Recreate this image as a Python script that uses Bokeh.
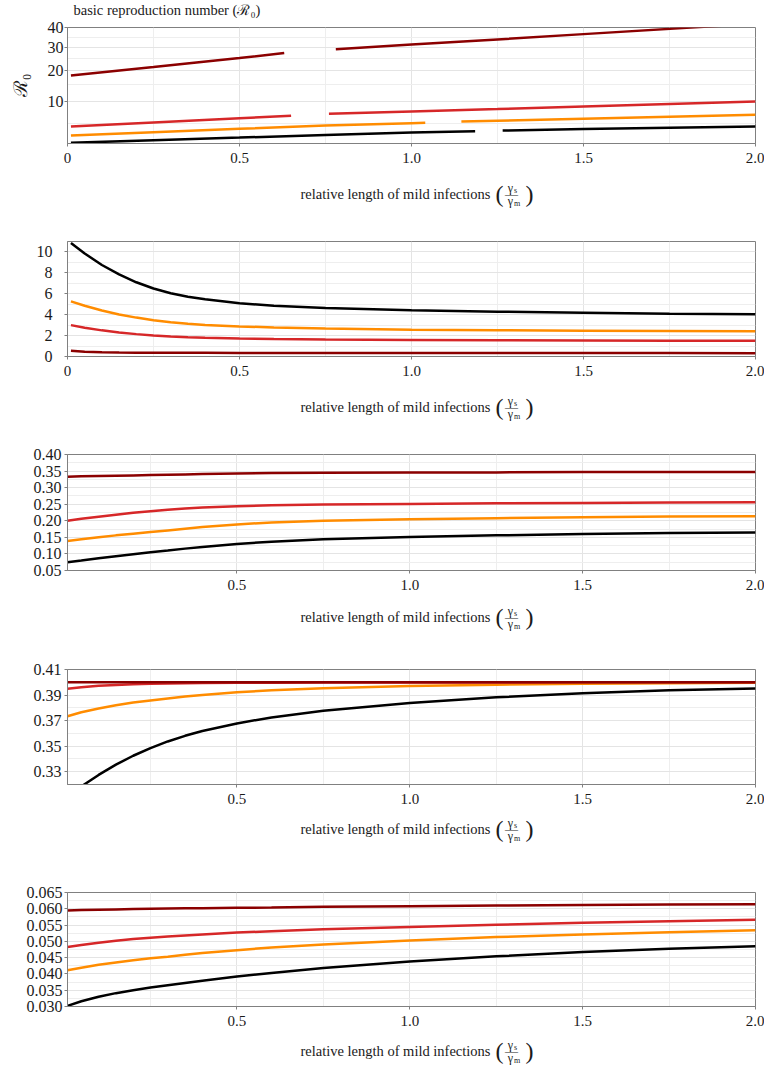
import math
from bokeh.plotting import figure
from bokeh.layouts import column
from bokeh.models import FixedTicker, CustomJSTickFormatter, PrintfTickFormatter, Range1d
from bokeh.core.properties import value
from bokeh.embed import file_html
from bokeh.resources import INLINE

nan = float("nan")
FONT = "Liberation Serif"

# series colours
C_BLACK = "#000000"
C_ORANGE = "#ff8c00"
C_RED = "#d62728"
C_DARKRED = "#8b0000"

# ---------------- Panel 1: basic reproduction number R0 (with gaps) ----------------
r0_darkred_x = [0.01, 0.25, 0.5, 0.63, nan, 0.78, 1.0, 1.25, 1.5, 1.8, 2.0]
r0_darkred_y = [18.3, 21.5, 25.2, 27.4, nan, 29.1, 31.3, 33.8, 36.5, 39.8, 42.1]
r0_red_x = [0.01, 0.25, 0.5, 0.65, nan, 0.76, 1.0, 1.25, 1.5, 1.75, 2.0]
r0_red_y = [4.38, 5.13, 5.98, 6.5, nan, 6.94, 7.5, 8.07, 8.7, 9.33, 10.0]
r0_orange_x = [0.01, 0.25, 0.5, 0.75, 1.0, 1.04, nan, 1.145, 1.25, 1.5, 1.75, 2.0]
r0_orange_y = [2.91, 3.43, 3.98, 4.57, 5.0, 5.06, nan, 5.32, 5.48, 5.88, 6.28, 6.72]
r0_black_x = [0.01, 0.25, 0.5, 0.75, 1.0, 1.185, nan, 1.265, 1.5, 1.75, 2.0]
r0_black_y = [1.95, 2.27, 2.62, 3.01, 3.36, 3.57, nan, 3.69, 3.93, 4.17, 4.40]
r0_ticks = [10, 20, 30, 40]
r0_minor = [5, 15, 25, 35]
r0_range = (1.87, 40)

# common x grid for panels 2-5
xs = [0.01, 0.05, 0.1, 0.15, 0.2, 0.25, 0.3, 0.35, 0.4, 0.5, 0.6, 0.75, 1.0, 1.25, 1.5, 1.75, 2.0]

# ---------------- Panel 2 ----------------
p2_black = [10.85, 9.85, 8.75, 7.85, 7.1, 6.5, 6.05, 5.72, 5.47, 5.1, 4.86, 4.64, 4.43, 4.29, 4.19, 4.1, 4.03]
p2_orange = [5.27, 4.85, 4.4, 4.02, 3.72, 3.47, 3.28, 3.13, 3.02, 2.88, 2.78, 2.67, 2.57, 2.51, 2.47, 2.44, 2.41]
p2_red = [3.0, 2.76, 2.5, 2.3, 2.14, 2.01, 1.91, 1.84, 1.79, 1.72, 1.67, 1.63, 1.58, 1.55, 1.53, 1.515, 1.5]
p2_darkred = [0.55, 0.46, 0.41, 0.385, 0.37, 0.36, 0.355, 0.35, 0.348, 0.345, 0.34, 0.335, 0.33, 0.33, 0.325, 0.325, 0.32]

# ---------------- Panel 3 ----------------
p3_black = [0.075, 0.080, 0.087, 0.093, 0.099, 0.105, 0.110, 0.116, 0.121, 0.130, 0.137, 0.144, 0.151, 0.156, 0.160, 0.163, 0.165]
p3_orange = [0.139, 0.144, 0.150, 0.156, 0.161, 0.166, 0.171, 0.176, 0.181, 0.189, 0.195, 0.200, 0.205, 0.208, 0.211, 0.213, 0.214]
p3_red = [0.200, 0.206, 0.212, 0.218, 0.224, 0.229, 0.233, 0.237, 0.240, 0.244, 0.247, 0.249, 0.251, 0.253, 0.254, 0.255, 0.256]
p3_darkred = [0.333, 0.334, 0.335, 0.336, 0.337, 0.338, 0.339, 0.340, 0.341, 0.343, 0.344, 0.345, 0.346, 0.346, 0.347, 0.347, 0.347]

# ---------------- Panel 4 ----------------
p4_black = [0.310, 0.3185, 0.3275, 0.3355, 0.3425, 0.3485, 0.3537, 0.3581, 0.3619, 0.3678, 0.3725, 0.3777, 0.3838, 0.3882, 0.3915, 0.3937, 0.3952]
p4_orange = [0.3734, 0.3765, 0.3795, 0.3820, 0.3841, 0.3858, 0.3873, 0.3888, 0.3901, 0.3922, 0.3937, 0.3953, 0.3971, 0.3981, 0.3988, 0.3993, 0.3997]
p4_red = [0.3950, 0.3962, 0.3972, 0.3979, 0.3984, 0.3988, 0.3991, 0.3993, 0.3994, 0.3996, 0.3997, 0.3998, 0.3999, 0.3999, 0.4000, 0.4000, 0.4000]
p4_darkred = [0.4001, 0.4001, 0.4001, 0.4001, 0.4001, 0.4001, 0.4001, 0.4001, 0.4001, 0.4001, 0.4001, 0.4001, 0.4001, 0.4001, 0.4001, 0.4001, 0.4001]

# ---------------- Panel 5 ----------------
p5_black = [0.0302, 0.0316, 0.0330, 0.0341, 0.0350, 0.0358, 0.0365, 0.0372, 0.0379, 0.0392, 0.0403, 0.0418, 0.0438, 0.0454, 0.0467, 0.0477, 0.0485]
p5_orange = [0.0411, 0.0419, 0.0428, 0.0435, 0.0442, 0.0448, 0.0453, 0.0459, 0.0464, 0.0473, 0.0481, 0.0490, 0.0503, 0.0513, 0.0521, 0.0528, 0.0534]
p5_red = [0.0483, 0.0489, 0.0496, 0.0502, 0.0507, 0.0511, 0.0515, 0.0518, 0.0521, 0.0527, 0.0531, 0.0537, 0.0544, 0.0551, 0.0557, 0.0562, 0.0566]
p5_darkred = [0.0595, 0.0596, 0.0597, 0.0598, 0.0599, 0.0600, 0.0601, 0.0602, 0.0602, 0.0603, 0.0604, 0.0606, 0.0608, 0.0610, 0.0612, 0.0613, 0.0614]

x_major = [0, 0.5, 1.0, 1.5, 2.0]
x_minor = [0.25, 0.75, 1.25, 1.75]
x_label_text = "relative length of mild infections"
title_text = "basic reproduction number (ℛ₀)"

AXIS_GRAY = "#808080"
GRID_MAJOR = "#e4e4e4"
GRID_MINOR = "#eeeeee"
TEXT_COLOR = "#1a1a1a"
W = 764
FRAME_L, FRAME_R = 67, 755


def make_fig(height, border_top, x0, y_range, y_standoff):
    p = figure(width=W, height=height, output_backend="svg", toolbar_location=None,
               x_range=Range1d(x0, 2.0), y_range=Range1d(*y_range),
               min_border_left=FRAME_L, min_border_right=W - FRAME_R,
               min_border_top=border_top, min_border_bottom=28)
    p.background_fill_color = "white"
    p.border_fill_color = "white"
    p.outline_line_color = AXIS_GRAY
    p.outline_line_width = 1
    for ax in (p.xaxis[0], p.yaxis[0]):
        ax.axis_line_color = AXIS_GRAY
        ax.major_tick_line_color = AXIS_GRAY
        ax.major_tick_out = 3
        ax.major_tick_in = 0
        ax.minor_tick_line_color = None
        ax.major_label_text_font = FONT
        ax.major_label_text_color = TEXT_COLOR
    p.xaxis.major_label_text_font_size = "15px"
    p.yaxis.major_label_text_font_size = "16px"
    p.xaxis.major_label_standoff = 5
    p.yaxis.major_label_standoff = y_standoff
    p.xaxis.ticker = FixedTicker(ticks=x_major, minor_ticks=x_minor)
    p.xaxis.formatter = CustomJSTickFormatter(code="return tick == 0 ? '0' : tick.toFixed(1);")
    for g in (p.xgrid[0], p.ygrid[0]):
        g.grid_line_color = GRID_MAJOR
        g.minor_grid_line_color = GRID_MINOR
    return p


def text_strip(height):
    """Blank strip whose data coordinates are page pixels (x) and pixels from its top (y)."""
    s = figure(width=W, height=height, output_backend="svg", toolbar_location=None,
               x_range=Range1d(FRAME_L, FRAME_R), y_range=Range1d(height, 0),
               x_axis_location=None, y_axis_location=None,
               min_border_left=FRAME_L, min_border_right=W - FRAME_R,
               min_border_top=0, min_border_bottom=0)
    s.outline_line_color = None
    s.background_fill_color = "white"
    s.border_fill_color = "white"
    s.grid.visible = False
    return s


def put_text(s, x, y, txt, size, align):
    s.text(x=[x], y=[y], text=[txt], text_font=value(FONT), text_font_size=value(size),
           text_color=TEXT_COLOR, text_align=align, text_baseline="middle")


def label_strip(height, yc):
    s = text_strip(height)
    put_text(s, 490, yc, x_label_text, "14.5px", "right")
    put_text(s, 499, yc, "(", "24px", "center")
    put_text(s, 529, yc, ")", "24px", "center")
    put_text(s, 510, yc - 6, "γ", "12px", "center")
    put_text(s, 513.5, yc - 3.5, "s", "8px", "left")
    put_text(s, 511, yc, "—", "13px", "center")
    put_text(s, 510, yc + 7, "γ", "12px", "center")
    put_text(s, 513.5, yc + 9.5, "m", "8px", "left")
    return s


LW = 2.5
sq = math.sqrt

# ---- Title strip ----
t0 = text_strip(20)
put_text(t0, 73, 9, title_text, "14.5px", "left")

# ---- Panel 1 ----
p1 = make_fig(151, 7, 0.0, (sq(r0_range[0]), sq(r0_range[1])), 0)
p1.yaxis.ticker = FixedTicker(ticks=[sq(v) for v in r0_ticks], minor_ticks=[sq(v) for v in r0_minor])
p1.yaxis.formatter = CustomJSTickFormatter(code="return Math.round(tick*tick).toString();")
p1.yaxis.axis_label = "ℛ₀"
p1.yaxis.axis_label_text_font = FONT
p1.yaxis.axis_label_text_font_size = "19px"
p1.yaxis.axis_label_text_font_style = "normal"
p1.yaxis.axis_label_text_color = TEXT_COLOR
p1.yaxis.axis_label_standoff = 14
for xv, yv, c in [(r0_black_x, r0_black_y, C_BLACK), (r0_orange_x, r0_orange_y, C_ORANGE),
                  (r0_red_x, r0_red_y, C_RED), (r0_darkred_x, r0_darkred_y, C_DARKRED)]:
    p1.line(xv, [sq(v) if v == v else nan for v in yv], line_color=c, line_width=LW)
s1 = label_strip(55, 22)

# ---- Panel 2 ----
p2 = make_fig(158, 15, 0.0, (0, 11), 11)
p2.yaxis.ticker = FixedTicker(ticks=[0, 2, 4, 6, 8, 10], minor_ticks=[1, 3, 5, 7, 9, 11])
p2.yaxis.formatter = PrintfTickFormatter(format="%d")
for yv, c in [(p2_black, C_BLACK), (p2_orange, C_ORANGE), (p2_red, C_RED), (p2_darkred, C_DARKRED)]:
    p2.line(xs, yv, line_color=c, line_width=LW)
s2 = label_strip(56, 22)

# ---- Panel 3 ----
p3 = make_fig(158, 14, 0.01, (0.05, 0.40), 2)
p3.yaxis.ticker = FixedTicker(ticks=[0.05, 0.10, 0.15, 0.20, 0.25, 0.30, 0.35, 0.40],
                              minor_ticks=[0.075, 0.125, 0.175, 0.225, 0.275, 0.325, 0.375])
p3.yaxis.formatter = PrintfTickFormatter(format="%.2f")
for yv, c in [(p3_black, C_BLACK), (p3_orange, C_ORANGE), (p3_red, C_RED), (p3_darkred, C_DARKRED)]:
    p3.line(xs, yv, line_color=c, line_width=LW)
s3 = label_strip(57, 18)

# ---- Panel 4 ----
p4 = make_fig(157, 14, 0.01, (0.32, 0.41), 2)
p4.yaxis.ticker = FixedTicker(ticks=[0.33, 0.35, 0.37, 0.39, 0.41],
                              minor_ticks=[0.34, 0.36, 0.38, 0.40])
p4.yaxis.formatter = PrintfTickFormatter(format="%.2f")
for yv, c in [(p4_black, C_BLACK), (p4_orange, C_ORANGE), (p4_red, C_RED), (p4_darkred, C_DARKRED)]:
    p4.line(xs, yv, line_color=c, line_width=LW)
s4 = label_strip(66, 16)

# ---- Panel 5 ----
p5 = make_fig(156, 14, 0.01, (0.030, 0.065), 1)
p5.yaxis.ticker = FixedTicker(ticks=[0.030, 0.035, 0.040, 0.045, 0.050, 0.055, 0.060, 0.065],
                              minor_ticks=[0.0325, 0.0375, 0.0425, 0.0475, 0.0525, 0.0575, 0.0625])
p5.yaxis.formatter = PrintfTickFormatter(format="%.3f")
for yv, c in [(p5_black, C_BLACK), (p5_orange, C_ORANGE), (p5_red, C_RED), (p5_darkred, C_DARKRED)]:
    p5.line(xs, yv, line_color=c, line_width=LW)
s5 = label_strip(33, 16)

layout = column(t0, p1, s1, p2, s2, p3, s3, p4, s4, p5, s5, spacing=0)
open("out.html", "w").write(file_html(layout, INLINE))
